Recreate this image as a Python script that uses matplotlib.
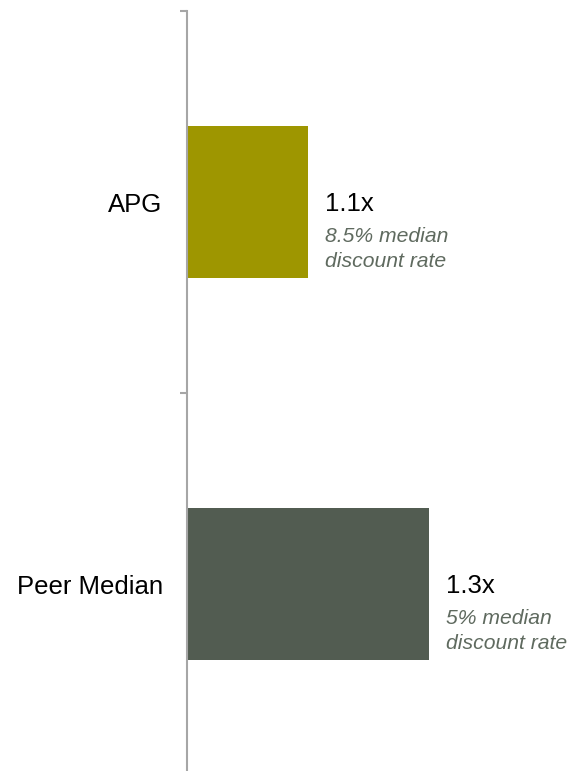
import matplotlib
matplotlib.use("Agg")
from matplotlib import pyplot as plt

plt.rcParams['font.family'] = ['Liberation Sans', 'DejaVu Sans']

categories = ["APG", "Peer Median"]
values = [1.1, 1.3]
value_labels = ["1.1x", "1.3x"]
notes_1 = ["8.5% median", "5% median"]
notes_2 = ["discount rate", "discount rate"]
colors = ["#9E9600", "#525C51"]

fig = plt.figure(figsize=(5.72, 7.71), dpi=100)
ax = fig.add_axes([187/572, -4/771, 385/572, 764/771])

x0 = 0.9
ypos = [0, 1]
ax.barh(ypos, [v - x0 for v in values], left=x0, height=0.4, color=colors)

ax.set_xlim(x0, x0 + 385/605)
ax.set_ylim(1.5, -0.5)

# ticks at category boundaries, labels at centers
ax.set_yticks([-0.5, 0.5, 1.5])
ax.set_yticklabels([])
ax.set_yticks(ypos, minor=True)
ax.set_yticklabels(categories, minor=True, fontsize=18.5)
ax.tick_params(axis='y', which='major', length=5, width=1.5, color='#A6A6A6')
ax.tick_params(axis='y', which='minor', length=0, pad=17.5)
ax.set_xticks([])

for s in ['top', 'right', 'bottom']:
    ax.spines[s].set_visible(False)
ax.spines['left'].set_color('#A6A6A6')
ax.spines['left'].set_linewidth(1.5)

for y, v, lab, n1, n2 in zip(ypos, values, value_labels, notes_1, notes_2):
    ax.annotate(lab, (v, y), xytext=(12, -6.8), textcoords='offset points',
                fontsize=18.5, color='black', va='baseline', ha='left')
    ax.annotate(n1, (v, y), xytext=(12, -29), textcoords='offset points',
                fontsize=15.2, color='#5F6A5F', style='italic', va='baseline', ha='left')
    ax.annotate(n2, (v, y), xytext=(12, -46.5), textcoords='offset points',
                fontsize=15.2, color='#5F6A5F', style='italic', va='baseline', ha='left')

fig.savefig("out.png", dpi=100)
